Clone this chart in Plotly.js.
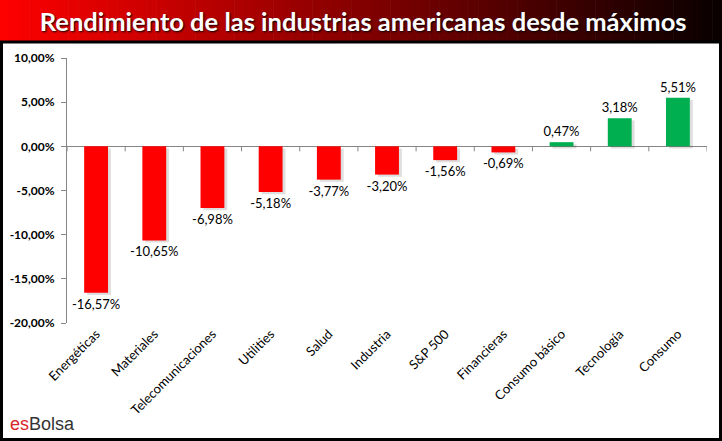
<!DOCTYPE html>
<html><head><meta charset="utf-8">
<script src="https://cdn.plot.ly/plotly-3.0.1.min.js"></script>
<style>html,body{margin:0;padding:0;background:#fff}#chart{width:722px;height:441px}</style>
</head><body><div id="chart"></div>
<script>
const categories = ["Energéticas","Materiales","Telecomunicaciones","Utilities","Salud","Industria","S&P 500","Financieras","Consumo básico","Tecnología","Consumo"];
const values = [-16.57,-10.65,-6.98,-5.18,-3.77,-3.20,-1.56,-0.69,0.47,3.18,5.51];
const yTickVals = [-20,-15,-10,-5,0,5,10];
const yTickText = yTickVals.map(v => v.toFixed(2).replace('.', ',') + '%');
const barLabels = values.map(v => v.toFixed(2).replace('.', ',') + '%');
const barColors = values.map(v => v < 0 ? '#FF0000' : '#00B050');

const W = 722, H = 441, mL = 67, mR = 15, mT = 58, mB = 118;
const pw = W - mL - mR, ph = H - mT - mB;
const px2x = px => (px - mL) / pw;
const py2y = py => (H - mB - py) / ph;

const shapes = [];
// title gradient bar
const N = 74;
for (let i = 0; i < N; i++) {
  const x0 = i * W / N, x1 = (i + 1) * W / N + 0.6;
  const t = (i + 0.5) / N;
  const r = Math.round(255 * (1 - t) + 8 * t);
  shapes.push({type:'rect', xref:'paper', yref:'paper', layer:'below',
    x0: px2x(x0), x1: px2x(x1), y0: py2y(42), y1: py2y(0),
    fillcolor: `rgb(${r},0,0)`, line:{width:0}});
}
// outer frame
shapes.push({type:'rect', xref:'paper', yref:'paper', layer:'above',
  x0: px2x(1.5), x1: px2x(W - 1.5), y0: py2y(H - 1.5), y1: py2y(42),
  fillcolor:'rgba(0,0,0,0)', line:{color:'#000', width:3}});
// category boundary tick marks on the zero line
for (let i = 0; i <= categories.length; i++) {
  shapes.push({type:'line', xref:'x', yref:'y', ysizemode:'pixel', yanchor:0,
    x0: i - 0.5, x1: i - 0.5, y0: 0, y1: -5, line:{color:'#868686', width:1}});
}

const shadow = {type:'bar', x: categories, y: values, base: values.map(() => -0.25),
  width: 0.41, offset: -0.205 + 0.05, marker:{color:'rgba(0,0,0,0.13)'},
  hoverinfo:'skip', showlegend:false};
const bars = {type:'bar', x: categories, y: values, width: 0.41, offset: -0.205,
  marker:{color: barColors}, text: barLabels, textposition:'outside', constraintext:'none',
  textfont:{family:'Lato, Liberation Sans, sans-serif', size:13, color:'#000'},
  cliponaxis:false, showlegend:false};

const layout = {
  width: W, height: H,
  margin:{l:mL, r:mR, t:mT, b:mB, pad:0},
  paper_bgcolor:'#fff', plot_bgcolor:'rgba(0,0,0,0)',
  barmode:'overlay',
  title:{text:'<b>Rendimiento de las industrias americanas desde máximos</b>',
    x:0.503, xanchor:'center', y:1 - 22/H, yanchor:'middle', yref:'container',
    font:{family:'Lato, Liberation Sans, sans-serif', size:25.5, color:'#fff',
      shadow:'1px 1px 2px #000'}},
  xaxis:{type:'category', range:[-0.5, categories.length - 0.5], showline:false,
    ticks:'', tickangle:-45, showgrid:false, zeroline:false,
    tickfont:{family:'Lato, Liberation Sans, sans-serif', size:13, color:'#000'}},
  yaxis:{range:[-20, 10], tickmode:'array', tickvals: yTickVals, ticktext: yTickText,
    showline:true, linecolor:'#868686', linewidth:1, ticks:'outside', ticklen:5,
    tickcolor:'#868686', showgrid:false, zeroline:true, zerolinecolor:'#868686',
    zerolinewidth:1, ticklabelstandoff:4,
    tickfont:{family:'Lato, Liberation Sans, sans-serif', size:12, color:'#000', weight:'bold'}},
  shapes: shapes,
  annotations:[{xref:'paper', yref:'paper', x: px2x(8), y: py2y(424),
    xanchor:'left', yanchor:'middle', showarrow:false,
    text:'<span style="color:#d9262c">es</span><span style="color:#333333">Bolsa</span>',
    font:{family:'Liberation Sans, Arial, sans-serif', size:18}}]
};
Plotly.newPlot('chart', [shadow, bars], layout, {displayModeBar:false, staticPlot:true});
</script></body></html>
